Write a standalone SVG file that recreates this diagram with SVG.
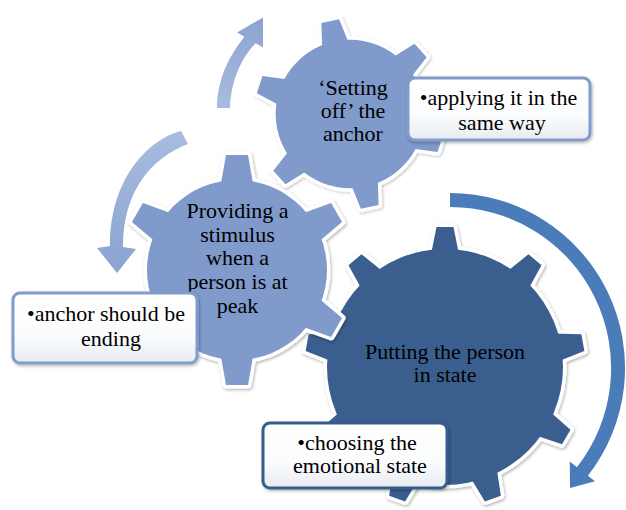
<svg xmlns="http://www.w3.org/2000/svg" width="626" height="510" viewBox="0 0 626 510">
<style>
.ol{fill:#fff;stroke:#fff;stroke-width:7;stroke-linejoin:round;filter:url(#sh)}
.dk{fill:#3A5F8E}
.lt{fill:#7F9ACB}
.t{font-family:'Liberation Serif','DejaVu Serif','Times New Roman',serif;font-size:22px;fill:#000;text-anchor:middle}
.box{fill:url(#bg);stroke-width:3;filter:url(#sh)}
.b1{stroke:#819CCB}
.b3{stroke:#385D8A}
</style>
<defs>
<filter id="sh" x="-10%" y="-10%" width="120%" height="120%">
<feDropShadow dx="1" dy="1.5" stdDeviation="1.5" flood-color="#000" flood-opacity="0.3"/>
</filter>
<linearGradient id="bg" x1="0" y1="0" x2="0" y2="1">
<stop offset="0" stop-color="#ffffff"/>
<stop offset="0.6" stop-color="#fbfcfd"/>
<stop offset="1" stop-color="#e7ebf2"/>
</linearGradient>
<linearGradient id="ag1" x1="0" y1="0" x2="0" y2="1">
<stop offset="0" stop-color="#A9BCDF"/>
<stop offset="1" stop-color="#8AA3D1"/>
</linearGradient>
<linearGradient id="ag2" x1="0" y1="1" x2="0" y2="0">
<stop offset="0" stop-color="#A9BCDF"/>
<stop offset="1" stop-color="#8AA3D1"/>
</linearGradient>
<polygon id="t9" points="-14.5,-110 -8.5,-140 8.5,-140 14.5,-110"/>
<g id="g9">
<circle r="118"/>
<use href="#t9"/>
<use href="#t9" transform="rotate(40)"/>
<use href="#t9" transform="rotate(80)"/>
<use href="#t9" transform="rotate(120)"/>
<use href="#t9" transform="rotate(160)"/>
<use href="#t9" transform="rotate(200)"/>
<use href="#t9" transform="rotate(240)"/>
<use href="#t9" transform="rotate(280)"/>
<use href="#t9" transform="rotate(320)"/>
</g>
<polygon id="t6" points="-16.5,-84 -11,-115 11,-115 16.5,-84"/>
<g id="g6">
<circle r="90"/>
<use href="#t6"/>
<use href="#t6" transform="rotate(60)"/>
<use href="#t6" transform="rotate(120)"/>
<use href="#t6" transform="rotate(180)"/>
<use href="#t6" transform="rotate(240)"/>
<use href="#t6" transform="rotate(300)"/>
</g>
</defs>
<rect width="626" height="510" fill="#fff"/>

<g id="gear-putting">
<use href="#g9" class="ol" transform="translate(445,367)"/>
<use href="#g9" class="dk" transform="translate(445,367)"/>
<text class="t" font-family="Liberation Serif, serif" x="445" y="359">Putting the person</text>
<text class="t" font-family="Liberation Serif, serif" x="445" y="382">in state</text>
</g>

<g id="gear-providing">
<use href="#g6" class="ol" transform="translate(237,270)"/>
<use href="#g6" class="lt" transform="translate(237,270)"/>
<text class="t" font-family="Liberation Serif, serif" x="237.5" y="218">Providing a</text>
<text class="t" font-family="Liberation Serif, serif" x="237.5" y="242">stimulus</text>
<text class="t" font-family="Liberation Serif, serif" x="237.5" y="265">when a</text>
<text class="t" font-family="Liberation Serif, serif" x="237.5" y="289">person is at</text>
<text class="t" font-family="Liberation Serif, serif" x="237.5" y="313">peak</text>
</g>

<g id="gear-setting">
<use href="#g6" class="ol" style="stroke-width:8.5" transform="translate(350,114) rotate(-12) scale(0.826)"/>
<use href="#g6" class="lt" transform="translate(350,114) rotate(-12) scale(0.826)"/>
<text class="t" font-family="Liberation Serif, serif" x="353" y="95">‘Setting</text>
<text class="t" font-family="Liberation Serif, serif" x="353" y="118">off’ the</text>
<text class="t" font-family="Liberation Serif, serif" x="353" y="141">anchor</text>
</g>

<g id="connectors">
<path id="arrow-big" fill="#4A7CB9" d="M450,193 A175,175 0 0 1 587.9,475.8 L595,481.3 L570,488 L569.8,461.6 L576.9,467.2 A161,161 0 0 0 450,207 Z"/>
<path id="arrow-left" fill="url(#ag1)" d="M181,131 C152,138 110,175 110,246 L97,248 L117,273 L136,249 L123,247 C123,190 152,158 188,144 Z"/>
<path id="arrow-top" fill="url(#ag2)" d="M217,108 C217,80 229,56 244.4,36.75 L237,32.5 L263,17.5 L263,47.5 L255.6,43.25 C242,57 231,80 230,108 Z"/>
</g>

<g id="box-applying">
<rect class="box b1" x="408" y="78" width="182" height="62" rx="7"/>
<text class="t" font-family="Liberation Serif, serif" x="498.5" y="105">•applying it in the</text>
<text class="t" font-family="Liberation Serif, serif" x="502" y="130">same way</text>
</g>

<g id="box-anchor">
<rect class="box b1" x="13" y="293" width="184" height="70" rx="7"/>
<text class="t" font-family="Liberation Serif, serif" x="106" y="321">•anchor should be</text>
<text class="t" font-family="Liberation Serif, serif" x="111" y="346">ending</text>
</g>

<g id="box-choosing">
<rect class="box b3" x="263" y="423" width="184" height="65" rx="7"/>
<text class="t" font-family="Liberation Serif, serif" x="357" y="450">•choosing the</text>
<text class="t" font-family="Liberation Serif, serif" x="360" y="473">emotional state</text>
</g>
</svg>
